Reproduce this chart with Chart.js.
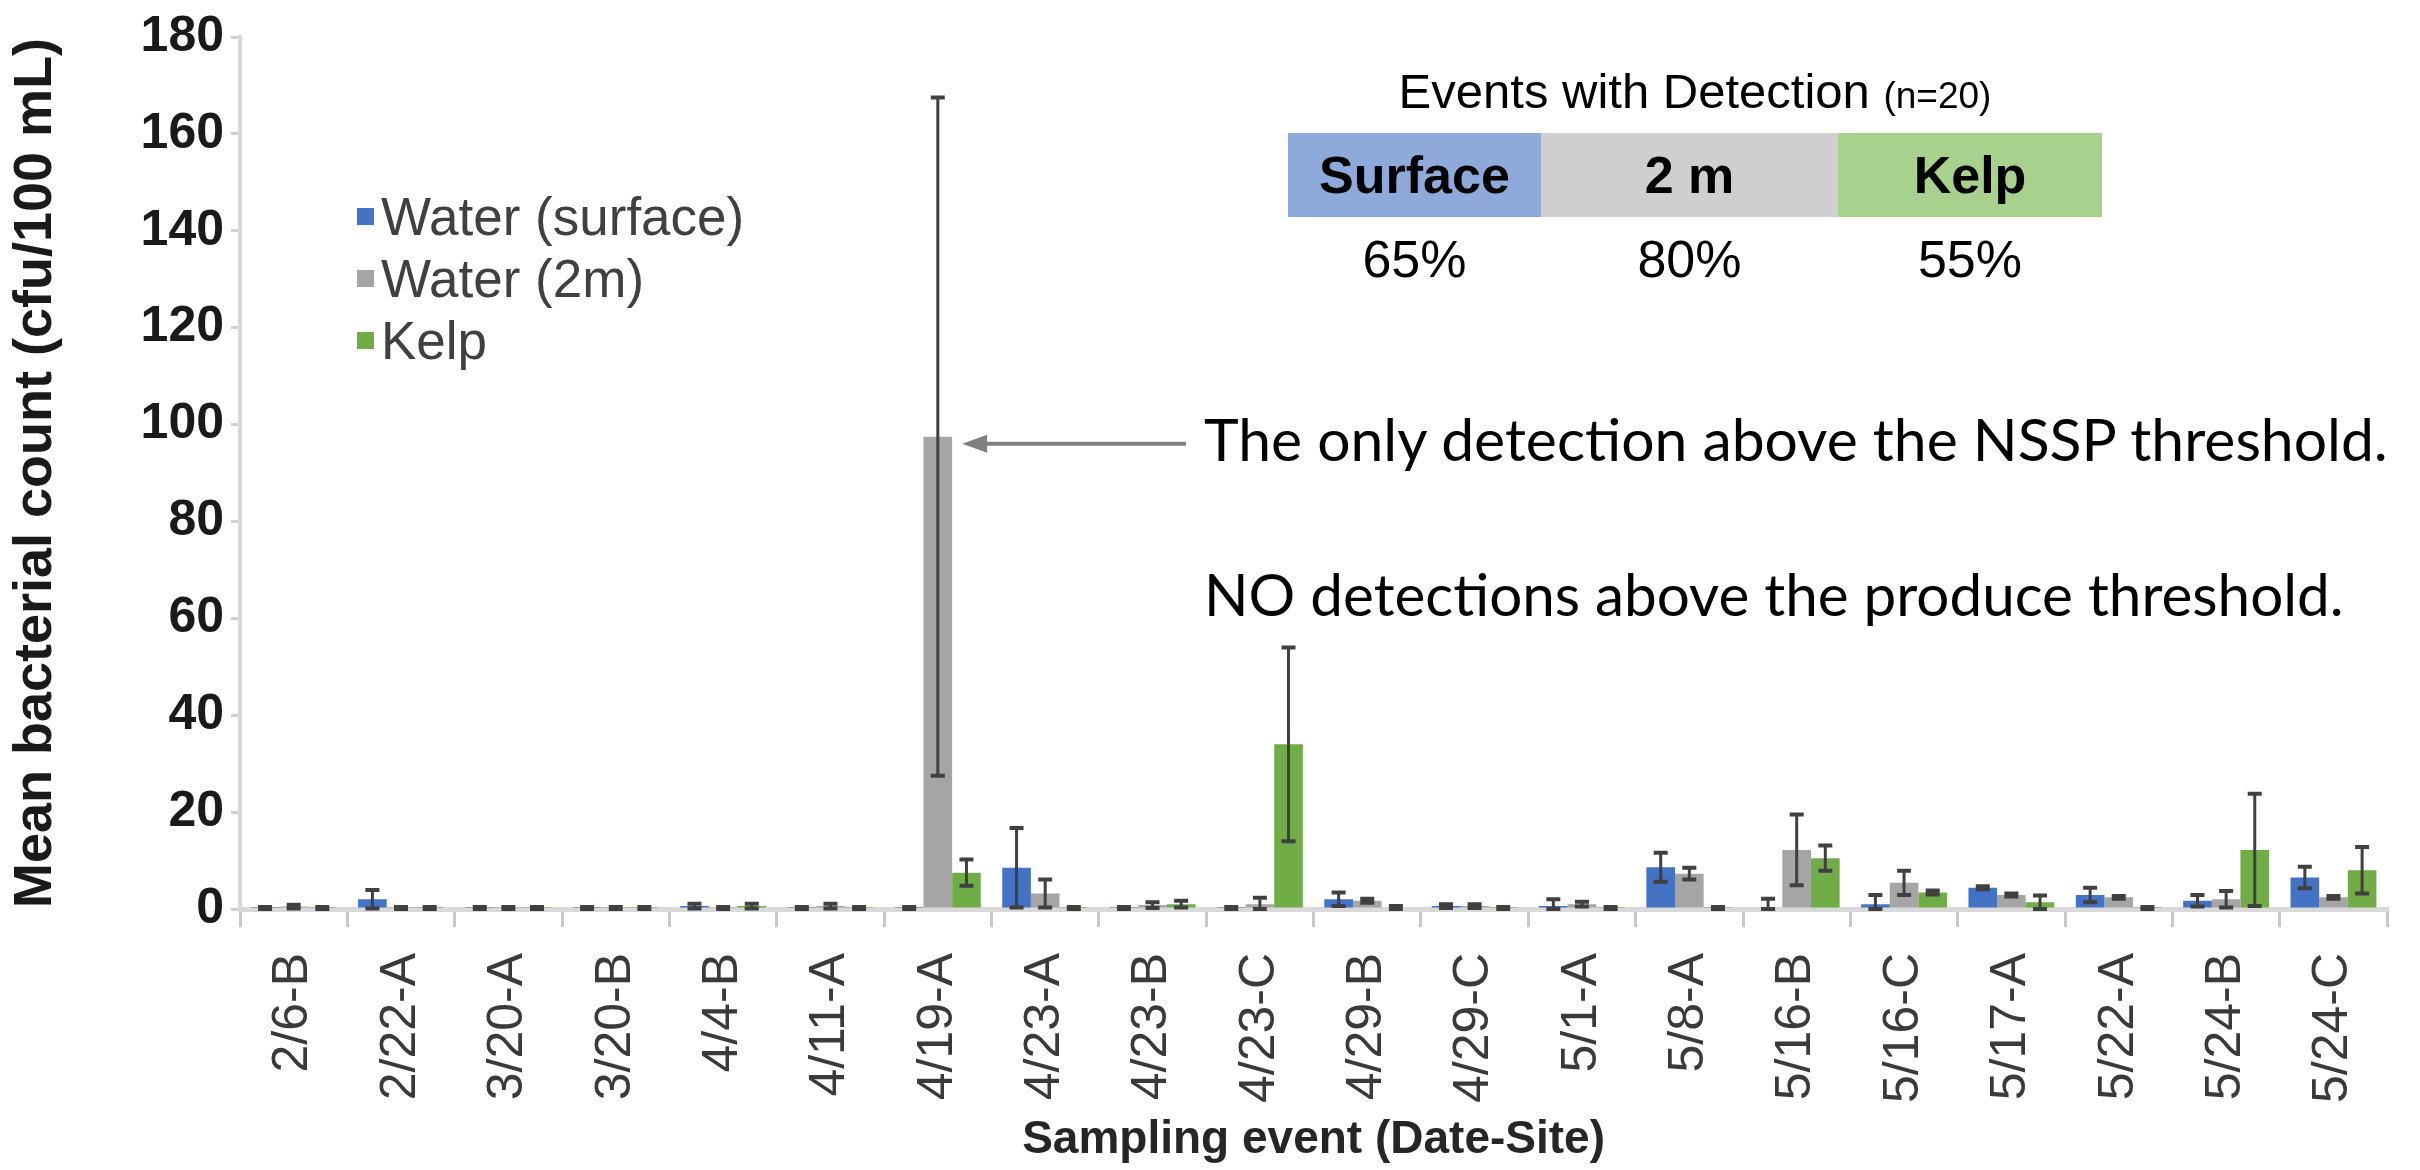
<!DOCTYPE html>
<html>
<head>
<meta charset="utf-8">
<title>Mean bacterial count by sampling event</title>
<script src="https://cdn.jsdelivr.net/npm/chart.js@4.4.1/dist/chart.umd.min.js"></script>
<style>
  body { margin: 0; background: #fff; }
  #wrap { position: relative; width: 2420px; height: 1170px; overflow: hidden; font-family: "Liberation Sans", Arial, sans-serif; }
  #chart { position: absolute; left: 0; top: 0; }
  .legend-row { position: absolute; left: 357px; height: 53px; display: flex; align-items: center; font-size: 53px; line-height: 1; color: #404040; white-space: nowrap; }
  .legend-row i { display: inline-block; width: 17px; height: 17px; margin-right: 7px; }
  #tblTitle { position: absolute; left: 1288px; width: 814px; top: 67px; text-align: center; font-size: 49px; line-height: 49px; color: #000; white-space: nowrap; }
  #tblTitle small { font-size: 37px; }
  #tblHead, #tblPct { position: absolute; left: 1288px; display: flex; }
  #tblHead { top: 133px; height: 84px; }
  #tblHead div { display: flex; align-items: center; justify-content: center; font-weight: bold; font-size: 52px; line-height: 1; color: #000; }
  #tblPct { top: 233px; }
  #tblPct div { text-align: center; font-size: 52px; line-height: 1; color: #000; }
  .note { position: absolute; left: 1204px; font-family: Lato, "Open Sans", sans-serif; font-size: 60px; line-height: 1; color: #000; white-space: nowrap; }
</style>
</head>
<body>
<div id="wrap">
  <canvas id="chart" width="2420" height="1170"></canvas>
  <div id="legend"></div>
  <div id="tblTitle"></div>
  <div id="tblHead"></div>
  <div id="tblPct"></div>
  <div class="note" id="note1" data-width="1184" data-cap="441"></div>
  <div class="note" id="note2" data-width="1140" data-cap="595"></div>
</div>
<script>
// datos
const categorias = ['2/6-B', '2/22-A', '3/20-A', '3/20-B', '4/4-B', '4/11-A', '4/19-A', '4/23-A', '4/23-B', '4/23-C',
                    '4/29-B', '4/29-C', '5/1-A', '5/8-A', '5/16-B', '5/16-C', '5/17-A', '5/22-A', '5/24-B', '5/24-C'];

const superficie    = [0.2, 2.0, 0.2, 0.2, 0.6, 0.2, 0.2, 8.5, 0.2, 0.2, 2.0, 0.6, 0.6, 8.6, 0.3, 1.0, 4.4, 2.9, 1.7, 6.5];
const superficieErr = [0.2, 1.9, 0.2, 0.2, 0.5, 0.2, 0.2, 8.2, 0.2, 0.2, 1.4, 0.4, 1.4, 3.0, 1.8, 1.9, 0.3, 1.5, 1.2, 2.2];

const dosMetros     = [0.5, 0.2, 0.2, 0.2, 0.2, 0.6, 97.5, 3.2, 0.8, 1.0, 1.7, 0.6, 1.0, 7.3, 12.2, 5.4, 2.9, 2.4, 2.0, 2.4];
const dosMetrosErr  = [0.4, 0.2, 0.2, 0.2, 0.2, 0.5, 70, 2.9, 0.6, 1.3, 0.4, 0.4, 0.5, 1.2, 7.3, 2.5, 0.3, 0.3, 1.7, 0.3];

const kelp          = [0.2, 0.2, 0.2, 0.2, 0.6, 0.2, 7.5, 0.2, 1.0, 34, 0.3, 0.2, 0.2, 0.2, 10.5, 3.4, 1.4, 0.2, 12.2, 8.0];
const kelpErr       = [0.2, 0.2, 0.2, 0.2, 0.5, 0.2, 2.7, 0.2, 0.7, 20, 0.3, 0.2, 0.2, 0.2, 2.6, 0.4, 1.4, 0.2, 11.6, 4.8];

const ticksY = [0, 20, 40, 60, 80, 100, 120, 140, 160, 180];
const series = ['Water (surface)', 'Water (2m)', 'Kelp'];

// tabla "Events with Detection"
const grupos = ['Surface', '2 m', 'Kelp'];
const porcentajes = ['65%', '80%', '55%'];
const notas = ['The only detection above the NSSP threshold.', 'NO detections above the produce threshold.'];

// estilos
const coloresBarras = ['#4472c4', '#a5a5a5', '#70ad47'];
const coloresTabla = ['#8eaadb', '#d0cece', '#a9d18e'];
const anchosTabla = [253, 297, 264];

Chart.defaults.font.family = '"Liberation Sans", Arial, sans-serif';

// barras de error + flecha de anotación
const errorBars = {
    id: 'errorBars',
    afterDatasetsDraw(chart) {
        const ctx = chart.ctx;
        const y = chart.scales.y;
        ctx.save();
        ctx.strokeStyle = '#404040';
        chart.data.datasets.forEach((ds, i) => {
            chart.getDatasetMeta(i).data.forEach((bar, j) => {
                const v = ds.data[j], e = ds.errores[j];
                const top = y.getPixelForValue(v + e);
                const bot = y.getPixelForValue(Math.max(v - e, 0));
                ctx.lineWidth = 3;
                ctx.beginPath();
                ctx.moveTo(bar.x, bot); ctx.lineTo(bar.x, top);
                ctx.stroke();
                ctx.lineWidth = 4;
                ctx.beginPath();
                ctx.moveTo(bar.x - 7, top); ctx.lineTo(bar.x + 7, top);
                ctx.moveTo(bar.x - 7, bot); ctx.lineTo(bar.x + 7, bot);
                ctx.stroke();
            });
        });

        // flecha hacia la barra 4/19-A (2 m)
        const g = chart.getDatasetMeta(1).data[6];
        const tipX = g.x + g.width / 2 + 10;
        const tipY = g.y + 7;
        ctx.strokeStyle = '#808080';
        ctx.fillStyle = '#808080';
        ctx.lineWidth = 4;
        ctx.beginPath();
        ctx.moveTo(1186, tipY); ctx.lineTo(tipX + 20, tipY);
        ctx.stroke();
        ctx.beginPath();
        ctx.moveTo(tipX, tipY);
        ctx.lineTo(tipX + 25, tipY - 9);
        ctx.lineTo(tipX + 25, tipY + 9);
        ctx.closePath();
        ctx.fill();
        ctx.restore();
    }
};

new Chart(document.getElementById('chart').getContext('2d'), {
    type: 'bar',
    data: {
        labels: categorias,
        datasets: [
            { label: series[0], data: superficie, errores: superficieErr, backgroundColor: coloresBarras[0] },
            { label: series[1], data: dosMetros, errores: dosMetrosErr, backgroundColor: coloresBarras[1] },
            { label: series[2], data: kelp, errores: kelpErr, backgroundColor: coloresBarras[2] }
        ]
    },
    options: {
        responsive: false,
        animation: false,
        devicePixelRatio: 1,
        layout: { padding: { top: 31, right: 21, left: 0, bottom: 0 } },
        datasets: { bar: { categoryPercentage: 0.8, barPercentage: 1.0 } },
        plugins: {
            legend: { display: false },
            tooltip: { enabled: false }
        },
        scales: {
            x: {
                grid: { drawOnChartArea: false, tickLength: 18, color: '#c8c8c8', lineWidth: 3 },
                border: { color: '#d9d9d9', width: 5 },
                ticks: { autoSkip: false, minRotation: 90, maxRotation: 90, padding: 26, color: '#3a3a3a', font: { size: 50 } },
                title: { display: true, text: 'Sampling event (Date-Site)', color: '#262626',
                         font: { size: 46, weight: 'bold' }, padding: { top: 0, bottom: 2 } },
                afterFit(s) { s.height = 261; }
            },
            y: {
                min: 0,
                max: 180,
                afterBuildTicks(s) { s.ticks = ticksY.map(v => ({ value: v })); },
                grid: { drawOnChartArea: false, tickLength: 9, color: '#d0d0d0', lineWidth: 3 },
                border: { color: '#d9d9d9', width: 4 },
                ticks: { padding: 7, color: '#1a1a1a', font: { size: 50, weight: 'bold' } },
                title: { display: true, text: 'Mean bacterial count (cfu/100 mL)', color: '#1a1a1a',
                         font: { size: 54, weight: 'bold' }, padding: { top: 4, bottom: 0 } },
                afterFit(s) { s.width = 240; }
            }
        }
    },
    plugins: [errorBars]
});

// leyenda
const centrosLeyenda = [216, 278, 340];
series.forEach((nombre, i) => {
    const row = document.createElement('div');
    row.className = 'legend-row';
    row.style.top = (centrosLeyenda[i] - 26.5) + 'px';
    row.innerHTML = `<i style="background:${coloresBarras[i]}"></i>${nombre}`;
    document.getElementById('legend').appendChild(row);
});

// tabla
document.getElementById('tblTitle').innerHTML = 'Events with Detection <small>(n=20)</small>';
grupos.forEach((g, i) => {
    const c = document.createElement('div');
    c.style.width = anchosTabla[i] + 'px';
    c.style.background = coloresTabla[i];
    c.textContent = g;
    document.getElementById('tblHead').appendChild(c);

    const p = document.createElement('div');
    p.style.width = anchosTabla[i] + 'px';
    p.textContent = porcentajes[i];
    document.getElementById('tblPct').appendChild(p);
});

// notas, ajustadas al ancho del original
['note1', 'note2'].forEach((id, i) => {
    const el = document.getElementById(id);
    el.textContent = notas[i];
    const w = el.getBoundingClientRect().width;
    const fs = 60 * Number(el.dataset.width) / w;
    el.style.fontSize = fs + 'px';
    el.style.top = (Number(el.dataset.cap) - 0.529 * fs) + 'px';
});
</script>
</body>
</html>
